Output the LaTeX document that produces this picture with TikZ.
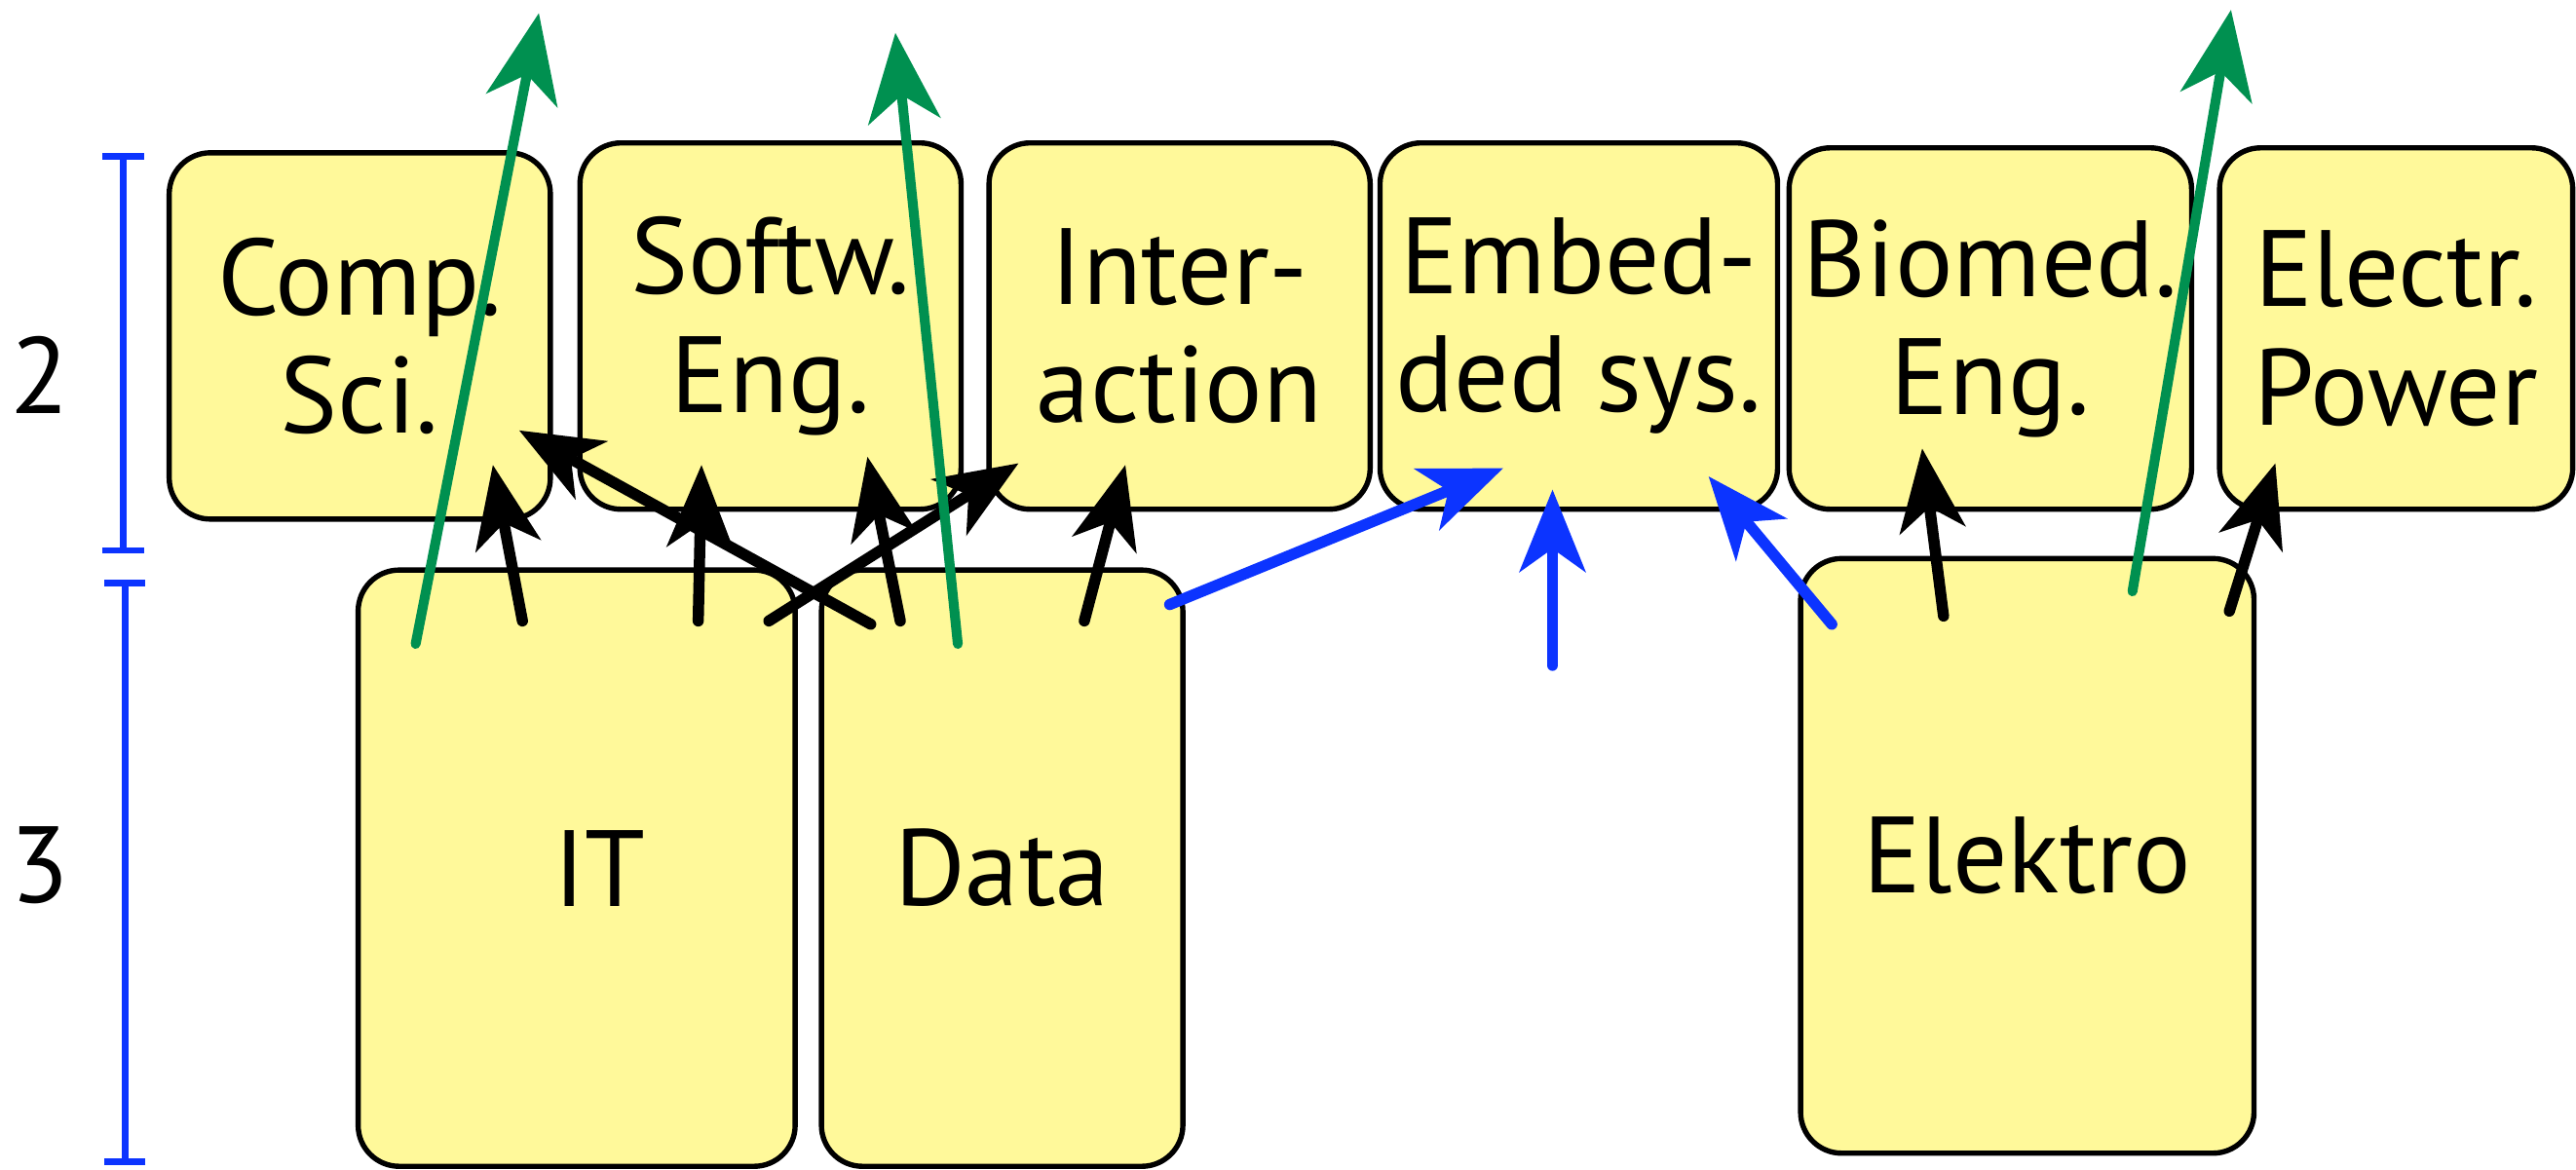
\documentclass[tikz,border=0pt]{standalone}
\usepackage{fontspec}
\setmainfont{PT Sans}
\usetikzlibrary{arrows.meta}
\definecolor{boxfill}{RGB}{255,249,154}
\definecolor{sgreen}{RGB}{0,144,80}
\definecolor{sblue}{RGB}{12,52,255}
\begin{document}
\begin{tikzpicture}[x=0.5pt,y=-0.5pt,
  box/.style={draw=black, line width=1.6pt, fill=boxfill, rounded corners=12.5pt,
    inner sep=0pt, align=center, font=\fontsize{33}{36}\selectfont},
  lvl/.style={font=\fontsize{33}{36}\selectfont, inner sep=0pt},
  bar/.style={draw=sblue, line width=2pt, {Bar[width=12.5pt,line width=2pt]}-{Bar[width=12.5pt,line width=2pt]}},
  karrow/.style={draw=black, line width=3.4pt, line cap=round, -{Stealth[length=25pt,width=20pt,inset=7pt]}},
  barrow/.style={draw=sblue, line width=3.4pt, line cap=round, -{Stealth[length=25pt,width=20pt,inset=7pt]}},
  garrow/.style={draw=sgreen, line width=3pt, line cap=round, -{Stealth[length=27pt,width=22pt,inset=8pt]}}]
\useasboundingbox (0,0) rectangle (1568,712);

% level bars
\coordinate (b2t) at (75,93);
\coordinate (b2b) at (75,337);
\coordinate (b3t) at (76,353);
\coordinate (b3b) at (76,709);
\draw[bar] (b2t) -- (b2b);
\draw[bar] (b3t) -- (b3b);
\node[lvl] (l2) at (24,228) {2};
\node[lvl] (l3) at (24,527) {3};

% upper boxes
\node[box, minimum width=116pt, minimum height=111.5pt] (cs) at (219,204.5) {Comp.\\Sci.};
\node[box, minimum width=116pt, minimum height=111.5pt] (se) at (469,198.5) {Softw.\\Eng.};
\node[box, minimum width=116pt, minimum height=111.5pt] (ia) at (718,198.5) {Inter-\\action};
\node[box, minimum width=121pt, minimum height=111.5pt] (es) at (961,198.5) {Embed-\\ded sys.};
\node[box, minimum width=122.5pt, minimum height=110pt] (be) at (1211.5,200) {Biomed.\\Eng.};
\node[box, minimum width=107.5pt, minimum height=110pt] (ep) at (1458.5,200) {Electr.\\Power};

% lower boxes
\node[box, minimum width=133pt, minimum height=181.5pt] (it) at (351,528.5) {\hspace{14pt}IT};
\node[box, minimum width=110pt, minimum height=181.5pt] (da) at (610,528.5) {Data};
\node[box, minimum width=138pt, minimum height=181pt] (el) at (1234,521) {Elektro};

% arrow end points
\foreach \n/\xa/\ya/\xb/\yb in {
  k1/318/378/300/283, k2/425/378/427/283, k3/530/380/316/262, k4/468/378/620/282,
  k5/548/378/528/278, k6/660/378/685/283, k7/1183/375/1170/273, k8/1357/372/1385/282,
  b1/712/368/915/285, b2/945/405/945/298, b3/1115/380/1040/290,
  g1/253/392/328/8, g2/583/392/545/20, g3/1298/360/1358/6}{
  \coordinate (\n s) at (\xa,\ya);
  \coordinate (\n e) at (\xb,\yb);
}

% black arrows
\foreach \n in {k1,k2,k3,k4,k5,k6,k7,k8}{\draw[karrow] (\n s) -- (\n e);}
% blue arrows
\foreach \n in {b1,b2,b3}{\draw[barrow] (\n s) -- (\n e);}
% green arrows
\foreach \n in {g1,g2,g3}{\draw[garrow] (\n s) -- (\n e);}
\end{tikzpicture}
\end{document}
